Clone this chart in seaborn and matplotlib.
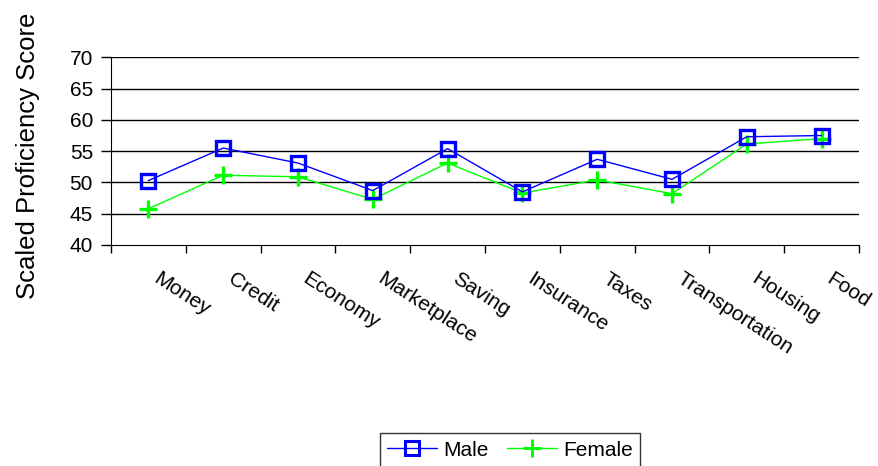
import matplotlib
matplotlib.use("Agg")
import matplotlib.pyplot as plt
import matplotlib.transforms as mtransforms
import seaborn as sns
import pandas as pd

categories = ["Money", "Credit", "Economy", "Marketplace", "Saving",
              "Insurance", "Taxes", "Transportation", "Housing", "Food"]
male = [50.3, 55.5, 53.1, 48.7, 55.4, 48.5, 53.7, 50.5, 57.3, 57.5]
female = [45.8, 51.15, 50.9, 47.3, 53.1, 48.3, 50.4, 48.2, 56.15, 57.0]

sns.set_style("white")
plt.rcParams["font.family"] = ["Liberation Sans", "DejaVu Sans"]
plt.rcParams["text.color"] = "black"
plt.rcParams["xtick.color"] = "black"
plt.rcParams["ytick.color"] = "black"
plt.rcParams["axes.edgecolor"] = "black"

df = pd.DataFrame({
    "Category": categories * 2,
    "Score": male + female,
    "Gender": ["Male"] * len(categories) + ["Female"] * len(categories),
})
df["pos"] = list(range(len(categories))) * 2

fig = plt.figure(figsize=(8.79, 4.66), dpi=100)
ax = fig.add_axes([111 / 879, 1 - 245 / 466, (859 - 111) / 879, (245 - 57.3) / 466])

palette = {"Male": "#0000FF", "Female": "#00FF00"}
sns.lineplot(data=df, x="pos", y="Score", hue="Gender", palette=palette,
             legend=False, ax=ax, linewidth=1, sort=False)

male_line, female_line = ax.lines[0], ax.lines[1]
male_line.set_marker("s")
male_line.set_markersize(10)
male_line.set_markerfacecolor("none")
male_line.set_markeredgecolor("#0000FF")
male_line.set_markeredgewidth(2.4)
male_line.set_zorder(4)
female_line.set_marker("+")
female_line.set_markersize(13)
female_line.set_markeredgecolor("#00FF00")
female_line.set_markeredgewidth(2.4)
female_line.set_zorder(3)

ax.set_xlim(-0.5, len(categories) - 0.5)
ax.set_ylim(40, 70)
ax.set_yticks(range(40, 71, 5))
ax.set_yticklabels([str(v) for v in range(40, 71, 5)], fontsize=15)
for v in range(45, 71, 5):
    ax.axhline(v, color="black", linewidth=1, zorder=1)

# category boundary ticks on the x axis
ax.set_xticks([i - 0.5 for i in range(len(categories) + 1)])
ax.set_xticklabels([])
ax.tick_params(axis="x", direction="out", length=6, width=1, bottom=True)
ax.tick_params(axis="y", direction="out", length=7, width=1, left=True, pad=6)

# rotated category names, placed just below the axis
offset = mtransforms.ScaledTranslation(12 / 100, -24 / 100, fig.dpi_scale_trans)
for i, name in enumerate(categories):
    ax.text(i, 40, name, transform=ax.transData + offset, rotation=-33,
            rotation_mode="anchor", ha="left", va="top", fontsize=15)

for side in ["top", "right"]:
    ax.spines[side].set_visible(False)
ax.set_xlabel("")
ax.set_ylabel("")

fig.text(28 / 879, 1 - 156 / 466, "Scaled Proficiency Score", rotation=90,
         ha="center", va="center", fontsize=18.5)

handles = [
    plt.Line2D([], [], color="#0000FF", linewidth=1, marker="s", markersize=10,
               markerfacecolor="none", markeredgewidth=2.2),
    plt.Line2D([], [], color="#00FF00", linewidth=1, marker="+", markersize=13,
               markeredgewidth=2.2),
]
leg = fig.legend(handles, ["Male", "Female"], loc="center",
                 bbox_to_anchor=(510 / 879, 1 - 450 / 466), ncol=2, fontsize=15,
                 frameon=True, fancybox=False, handlelength=2.4,
                 columnspacing=0.9, handletextpad=0.3, borderpad=0.35,
                 borderaxespad=0)
leg.get_frame().set_edgecolor("black")
leg.get_frame().set_linewidth(1)

fig.savefig("out.png", dpi=100)
